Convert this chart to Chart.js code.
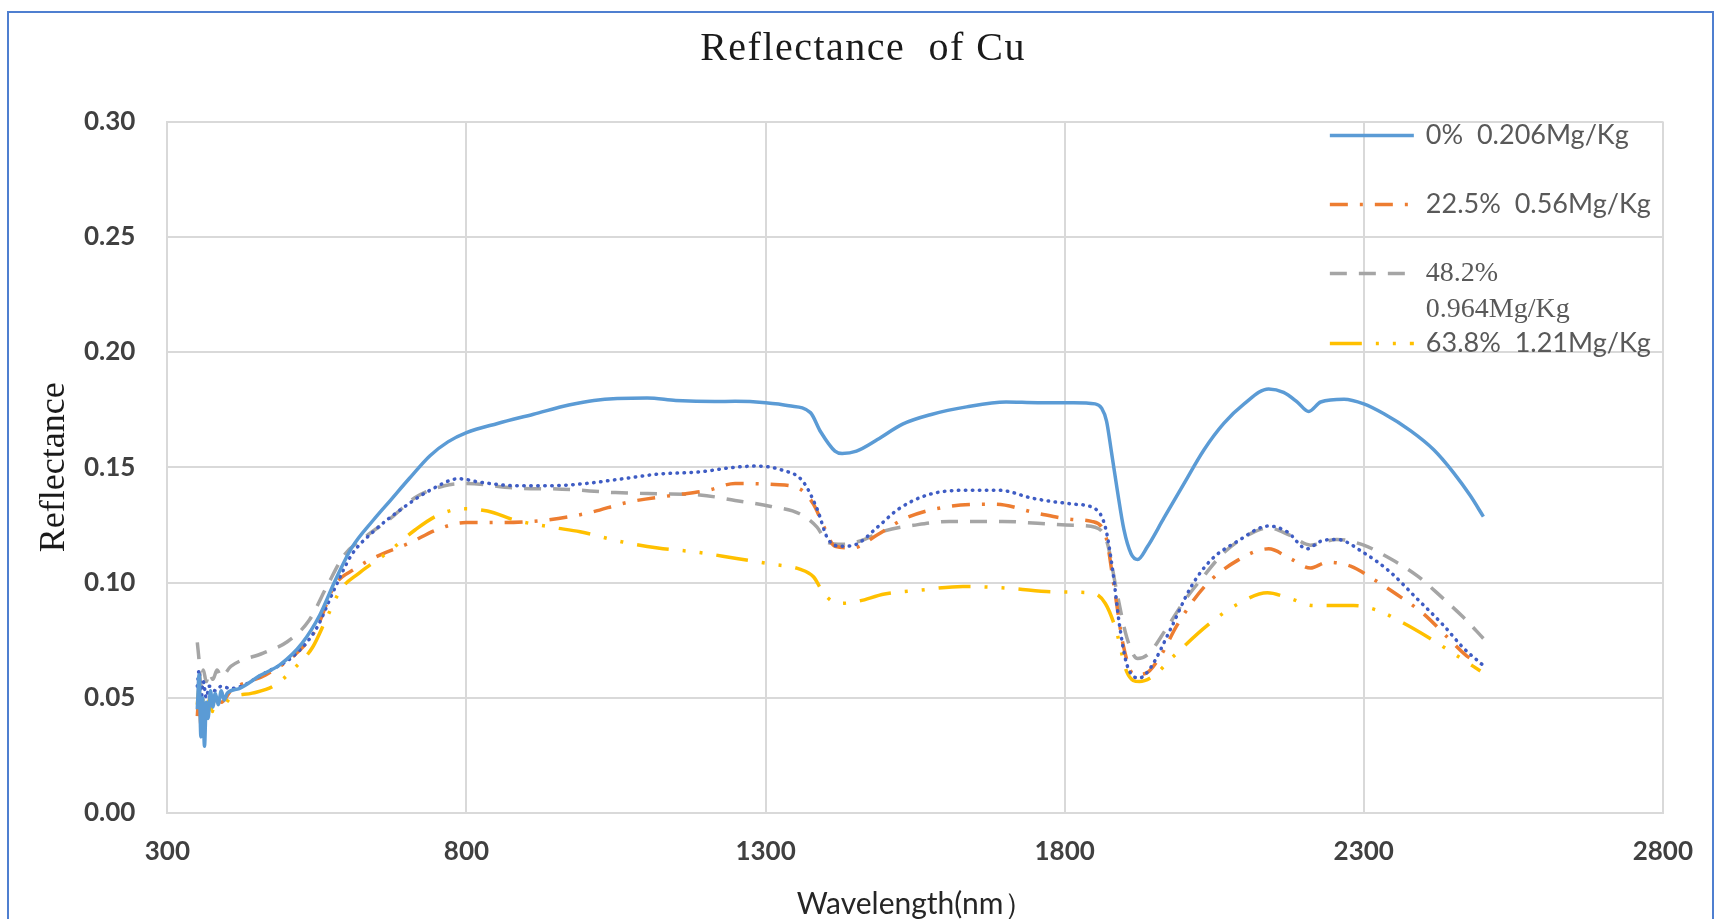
<!DOCTYPE html>
<html>
<head>
<meta charset="utf-8">
<title>Reflectance of Cu</title>
<script src="https://cdn.jsdelivr.net/npm/chart.js@4.4.0/dist/chart.umd.min.js"></script>
<style>
  html, body { margin: 0; padding: 0; background: #ffffff; overflow: hidden; }
  #wrap { position: relative; width: 1716px; height: 919px; overflow: hidden; }
  #frame { position: absolute; left: 7px; top: 11px; width: 1707px; height: 1000px;
           border: 2px solid #4f7fd0; box-sizing: border-box; pointer-events: none; }
  canvas { position: absolute; left: 0; top: 0; }
</style>
</head>
<body>
<div id="wrap">
  <canvas id="chart" width="1716" height="919"></canvas>
  <div id="frame"></div>
</div>
<script>
// ---- axis ticks ----
const xTicks = [300, 800, 1300, 1800, 2300, 2800];
const yTicks = [0, 0.05, 0.10, 0.15, 0.20, 0.25, 0.30];

// ---- legend labels (the dotted reference curve has no legend entry) ----
const legendLabels = [
  ['0%  0.206Mg/Kg'],
  ['22.5%  0.56Mg/Kg'],
  ['48.2%', '0.964Mg/Kg'],
  ['63.8%  1.21Mg/Kg']
];

// ---- 0%  0.206 Mg/Kg ----
const wl0 = [350,353,356,359,362,365,368,372,376,380,385,390,395,400,420,454,489,525,555,579,608,644,674,704,739,769,800,852,912,971,1013,1102,1150,1215,1249,1300,1339,1375,1392,1416,1428,1452,1487,1529,1577,1636,1702,1755,1815,1851,1862,1870,1878,1888,1899,1911,1922,1938,1966,1999,2033,2066,2100,2141,2166,2189,2208,2228,2267,2300,2333,2378,2417,2450,2478,2500];
const r0  = [0.045,0.060,0.033,0.050,0.029,0.048,0.041,0.053,0.046,0.052,0.047,0.053,0.049,0.052,0.054,0.0595,0.0645,0.0736,0.086,0.100,0.115,0.127,0.136,0.145,0.155,0.161,0.165,0.169,0.173,0.177,0.179,0.180,0.179,0.1785,0.1786,0.178,0.1767,0.1737,0.1654,0.157,0.156,0.157,0.162,0.1687,0.1729,0.1762,0.1783,0.178,0.178,0.1775,0.1755,0.170,0.157,0.140,0.123,0.1125,0.110,0.1154,0.128,0.1427,0.1576,0.169,0.1775,0.184,0.1825,0.1783,0.1742,0.1783,0.1795,0.1775,0.1733,0.1659,0.1576,0.1477,0.1377,0.1286];

// ---- 22.5%  0.56 Mg/Kg ----
const wl1 = [350,353,356,360,365,370,375,380,390,406,465,513,549,579,614,656,704,751,799,858,930,1001,1073,1150,1204,1249,1315,1357,1380,1398,1416,1446,1487,1535,1607,1684,1755,1815,1845,1868,1883,1898,1916,1935,1960,1988,2033,2089,2141,2177,2211,2239,2278,2317,2356,2400,2439,2472,2495];
const r1  = [0.042,0.052,0.038,0.050,0.044,0.049,0.046,0.051,0.048,0.053,0.060,0.0686,0.080,0.0985,0.106,0.112,0.117,0.123,0.126,0.126,0.127,0.130,0.135,0.138,0.140,0.143,0.1425,0.1406,0.134,0.124,0.1157,0.115,0.1207,0.128,0.133,0.134,0.130,0.1273,0.1265,0.1207,0.0975,0.0727,0.060,0.0605,0.068,0.0815,0.098,0.1096,0.1146,0.1104,0.1063,0.1088,0.1071,0.1013,0.0947,0.0864,0.0765,0.0682,0.0649];

// ---- 48.2%  0.964 Mg/Kg ----
const wl2 = [350,353,356,360,365,370,376,383,390,406,460,501,537,567,596,632,674,715,763,800,880,960,1049,1120,1190,1249,1309,1357,1386,1404,1428,1458,1499,1547,1607,1696,1755,1815,1851,1871,1886,1904,1922,1940,1970,2000,2030,2066,2111,2141,2177,2211,2255,2300,2344,2389,2433,2467,2500];
const r2  = [0.074,0.066,0.055,0.062,0.057,0.061,0.058,0.062,0.059,0.0636,0.0694,0.0744,0.0836,0.0985,0.112,0.120,0.128,0.137,0.142,0.143,0.141,0.1405,0.139,0.1385,0.138,0.1356,0.133,0.1298,0.124,0.1174,0.1166,0.118,0.1224,0.1248,0.1265,0.1265,0.1257,0.1248,0.124,0.1174,0.0975,0.076,0.067,0.069,0.080,0.092,0.102,0.1129,0.1212,0.1237,0.1204,0.1162,0.1187,0.1162,0.1104,0.103,0.093,0.0848,0.0757];

// ---- 63.8%  1.21 Mg/Kg ----
const wl3 = [350,353,356,360,365,370,375,380,390,406,442,477,513,543,567,590,620,668,715,751,793,835,882,942,990,1061,1120,1190,1249,1309,1357,1380,1398,1422,1452,1499,1559,1630,1708,1785,1845,1868,1886,1904,1925,1946,1982,2039,2089,2139,2177,2216,2283,2322,2367,2411,2456,2495];
const r3  = [0.047,0.054,0.041,0.050,0.043,0.049,0.044,0.050,0.046,0.050,0.052,0.055,0.063,0.072,0.085,0.097,0.104,0.113,0.123,0.129,0.132,0.131,0.127,0.124,0.122,0.1176,0.115,0.113,0.1105,0.108,0.1058,0.1025,0.095,0.0909,0.0917,0.095,0.0967,0.0983,0.0975,0.0959,0.0955,0.0909,0.0793,0.0611,0.057,0.059,0.068,0.0815,0.0906,0.0955,0.093,0.090,0.090,0.088,0.0823,0.0757,0.0682,0.0616];

// ---- dotted reference curve ----
const wl4 = [350,353,356,360,365,370,380,390,406,465,513,549,579,608,644,692,739,787,823,882,942,1001,1061,1120,1190,1249,1285,1327,1362,1386,1404,1428,1452,1487,1523,1571,1630,1690,1749,1815,1851,1868,1880,1892,1904,1925,1944,1977,2011,2044,2089,2141,2172,2205,2228,2255,2300,2344,2389,2433,2467,2500];
const r4  = [0.055,0.062,0.048,0.057,0.050,0.055,0.053,0.055,0.054,0.061,0.0686,0.080,0.097,0.112,0.122,0.132,0.140,0.145,0.1435,0.142,0.142,0.143,0.145,0.147,0.148,0.150,0.1505,0.1488,0.144,0.132,0.119,0.1157,0.1166,0.124,0.132,0.138,0.140,0.140,0.1364,0.134,0.132,0.124,0.1058,0.081,0.0644,0.0586,0.0632,0.0798,0.098,0.1096,0.1179,0.1245,0.122,0.1146,0.1179,0.1187,0.1129,0.1046,0.093,0.0815,0.0715,0.064];

const toPoints = (xs, ys) => xs.map((x, i) => ({ x: x, y: ys[i] }));

const lineBase = { fill: false, pointRadius: 0, pointHoverRadius: 0, cubicInterpolationMode: 'monotone', borderJoinStyle: 'round' };

const datasets = [
  Object.assign({}, lineBase, { label: legendLabels[0].join(' '), data: toPoints(wl0, r0), borderColor: '#5b9bd5', borderWidth: 3.5, borderDash: [], order: 0 }),
  Object.assign({}, lineBase, { label: legendLabels[1].join(' '), data: toPoints(wl1, r1), borderColor: '#ed7d31', borderWidth: 3.5, borderDash: [18, 12, 3, 12], order: 3 }),
  Object.assign({}, lineBase, { label: legendLabels[2].join(' '), data: toPoints(wl2, r2), borderColor: '#a5a5a5', borderWidth: 3.5, borderDash: [17, 12], order: 4 }),
  Object.assign({}, lineBase, { label: legendLabels[3].join(' '), data: toPoints(wl3, r3), borderColor: '#ffc000', borderWidth: 3.5, borderDash: [32, 14, 3, 14, 3, 14], order: 2 }),
  Object.assign({}, lineBase, { label: 'reference', data: toPoints(wl4, r4), borderColor: '#3e5cc4', borderWidth: 3.5, borderDash: [0.5, 6.5], borderCapStyle: 'round', order: 1 })
];

// Chart title, drawn with a little extra letter spacing
const titlePlugin = {
  id: 'spacedTitle',
  afterDraw(chart) {
    const ctx = chart.ctx;
    ctx.save();
    ctx.font = '40px "Liberation Serif", "Times New Roman", serif';
    if ('letterSpacing' in ctx) ctx.letterSpacing = '1.5px';
    ctx.fillStyle = '#1a1a1a';
    ctx.textAlign = 'center';
    ctx.textBaseline = 'middle';
    ctx.fillText('Reflectance  of Cu', 863, 49);
    ctx.restore();
  }
};

// Legend inside the plot area, top right, using each dataset's own stroke style
const legendPlugin = {
  id: 'insetLegend',
  afterDatasetsDraw(chart) {
    const ctx = chart.ctx;
    const a = chart.chartArea;
    const x1 = a.right - 333, x2 = a.right - 249, tx = a.right - 237;
    const rows = [
      { ds: 0, y: a.top + 14, serif: false },
      { ds: 1, y: a.top + 83, serif: false },
      { ds: 2, y: a.top + 152, serif: true, lineGap: 36 },
      { ds: 3, y: a.top + 222, serif: false }
    ];
    rows.forEach(row => {
      const d = chart.data.datasets[row.ds];
      ctx.save();
      ctx.strokeStyle = d.borderColor;
      ctx.lineWidth = d.borderWidth;
      ctx.setLineDash(d.borderDash || []);
      ctx.lineCap = d.borderCapStyle || 'butt';
      ctx.beginPath();
      ctx.moveTo(x1, row.y);
      ctx.lineTo(x2, row.y);
      ctx.stroke();
      ctx.setLineDash([]);
      ctx.fillStyle = '#595959';
      ctx.textAlign = 'left';
      ctx.textBaseline = 'middle';
      ctx.font = row.serif ? '28px "Liberation Serif", serif' : '27px Lato, sans-serif';
      legendLabels[row.ds].forEach((t, k) => {
        ctx.fillText(t, tx, row.y + k * (row.lineGap || 0));
      });
      ctx.restore();
    });
  }
};

const tickFont = { family: 'Lato', size: 26, weight: 'bold' };

new Chart(document.getElementById('chart'), {
  type: 'line',
  data: { datasets: datasets },
  plugins: [titlePlugin, legendPlugin],
  options: {
    responsive: false,
    animation: false,
    events: [],
    layout: { padding: { left: 0, right: 50.3, top: 121.5, bottom: 0 } },
    plugins: { legend: { display: false }, title: { display: false }, tooltip: { enabled: false } },
    scales: {
      x: {
        type: 'linear',
        min: xTicks[0],
        max: xTicks[xTicks.length - 1],
        afterBuildTicks(scale) { scale.ticks = xTicks.map(v => ({ value: v })); },
        afterFit(scale) { scale.height = 106; },
        grid: { color: '#d9d9d9', lineWidth: 2, drawTicks: false },
        border: { color: '#d9d9d9', width: 2 },
        ticks: { font: tickFont, color: '#404040', padding: 23, maxRotation: 0, autoSkip: false,
                 callback: v => String(v) },
        title: { display: true, text: 'Wavelength(nm）', color: '#262626',
                 font: { family: 'Lato', size: 30, lineHeight: 1 }, padding: { top: 0, bottom: 0 } }
      },
      y: {
        type: 'linear',
        min: yTicks[0],
        max: yTicks[yTicks.length - 1],
        afterBuildTicks(scale) { scale.ticks = yTicks.map(v => ({ value: v })); },
        afterFit(scale) { scale.width = 167.4; },
        grid: { color: '#d9d9d9', lineWidth: 2, drawTicks: false },
        border: { color: '#d9d9d9', width: 2 },
        ticks: { font: tickFont, color: '#404040', padding: 32, callback: v => Number(v).toFixed(2) },
        title: { display: true, text: 'Reflectance', color: '#1a1a1a',
                 font: { family: 'Liberation Serif', size: 36, lineHeight: 1.2 }, padding: { top: 33, bottom: 0 } }
      }
    }
  }
});
</script>
</body>
</html>
